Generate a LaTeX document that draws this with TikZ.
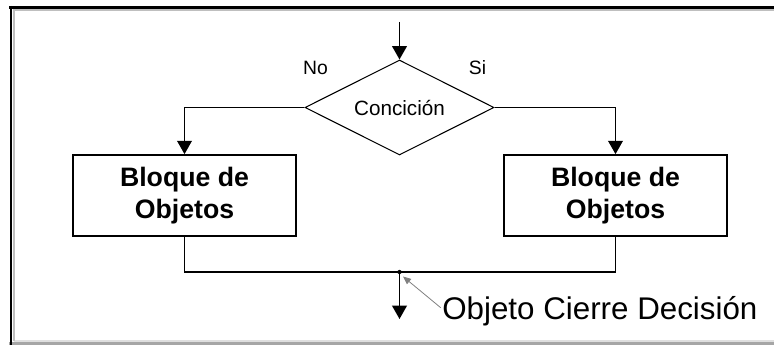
\documentclass[tikz,border=0pt]{standalone}
\usepackage{fontspec}
\setmainfont{Liberation Sans}
\usetikzlibrary{shapes.geometric,arrows.meta}
\begin{document}
\begin{tikzpicture}[x=0.75pt,y=-0.75pt,
  conn/.style={line width=1.3pt,-{Triangle[width=11pt,length=10pt]}},
  wire/.style={line width=1.3pt},
  blockbox/.style={draw,line width=1.3pt,minimum width=167.25pt,minimum height=60.75pt,inner sep=0pt,align=center,font=\fontsize{20}{24}\selectfont\bfseries},
  decision/.style={draw,diamond,aspect=2,line width=0.8pt,inner sep=0pt,minimum width=141.75pt,minimum height=71.25pt,font=\fontsize{15.5}{17}\selectfont},
  lbl/.style={font=\fontsize{14.5}{16}\selectfont,inner sep=0pt},
  note/.style={font=\fontsize{23.5}{26}\selectfont,inner sep=0pt,anchor=west},
  pointer/.style={draw=gray,line width=0.6pt,-{Triangle[width=5pt,length=6pt]}}
]
\useasboundingbox (0,0) rectangle (774,345);
% frame
\draw[gray!25,line width=1.5pt] (14,340.5) -- (774,340.5);
\draw[gray!70,line width=2.2pt] (9,343.5) -- (774,343.5);
\draw[gray!50,line width=1.5pt] (13.5,10) -- (13.5,341);
\draw[gray!50,line width=1.5pt] (13,10.5) -- (774,10.5);
\draw[black,line width=2.2pt] (11,6) -- (11,345);
\draw[black,line width=2.2pt] (9,7.5) -- (774,7.5);

% nodes
\coordinate (top) at (399.5,22);
\node[decision] (dec) at (399.5,107.5) {Concición};
\node[lbl] (no) at (315.5,68) {No};
\node[lbl] (si) at (477.5,68) {Si};
\node[blockbox] (lb) at (184.5,195.5) {Bloque de\\Objetos};
\node[blockbox] (rb) at (615.5,195.5) {Bloque de\\Objetos};
\coordinate (j) at (399.5,272);
\coordinate (end) at (399.5,319);
\node[note] (nt) at (442,311) {Objeto Cierre Decisión};
\coordinate (nhead) at (403,276.5);

% connectors
\draw[conn] (top) -- (dec.north);
\draw[conn] (dec.west) -| (lb.north);
\draw[conn] (dec.east) -| (rb.north);
\draw[wire] (lb.south) |- (j) -| (rb.south);
\draw[conn] (j) -- (end);
\fill (j) circle (1.6pt);
\draw[pointer] ([xshift=-1pt,yshift=2.5pt]nt.west) -- (nhead);
\end{tikzpicture}
\end{document}
